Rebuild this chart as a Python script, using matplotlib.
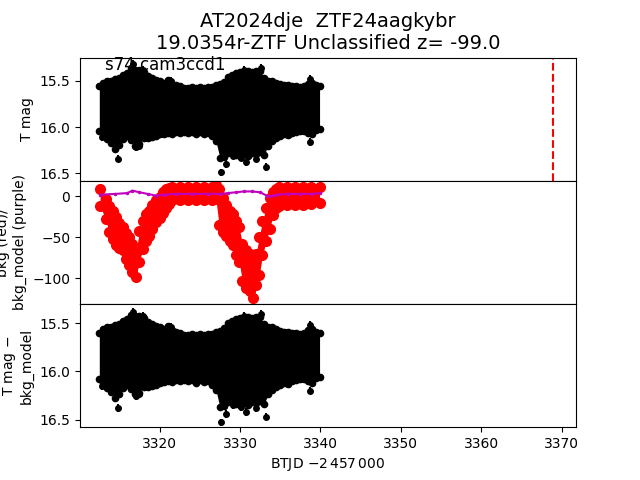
import matplotlib
matplotlib.use("Agg")
import matplotlib.pyplot as plt

# light curve envelope (T mag)
t_lc = [3312.5, 3313.0, 3313.5, 3314.0, 3314.5, 3315.0, 3315.5, 3316.0, 3316.5, 3317.0,
        3317.5, 3318.0, 3318.5, 3319.0, 3319.5, 3320.0, 3320.5, 3321.0, 3321.5, 3322.0,
        3322.5, 3323.0, 3323.5, 3324.0, 3324.5, 3325.0, 3325.5, 3326.0, 3326.5, 3327.0,
        3327.5, 3328.0, 3328.5, 3329.0, 3329.5, 3330.0, 3330.5, 3331.0, 3331.5, 3332.0,
        3332.5, 3333.0, 3333.5, 3334.0, 3334.5, 3335.0, 3335.5, 3336.0, 3336.5, 3337.0,
        3337.5, 3338.0, 3338.5, 3339.0, 3339.5, 3339.9]
mag_bright = [15.56, 15.52, 15.50, 15.50, 15.48, 15.47, 15.44, 15.42, 15.36, 15.38,
              15.38, 15.41, 15.45, 15.47, 15.49, 15.50, 15.52, 15.49, 15.53, 15.55,
              15.56, 15.58, 15.58, 15.57, 15.58, 15.57, 15.58, 15.57, 15.57, 15.55,
              15.54, 15.51, 15.46, 15.44, 15.42, 15.41, 15.41, 15.40, 15.41, 15.40,
              15.40, 15.47, 15.50, 15.50, 15.52, 15.54, 15.55, 15.55, 15.56, 15.56,
              15.57, 15.56, 15.53, 15.52, 15.55, 15.56]
mag_faint = [16.04, 16.08, 16.13, 16.17, 16.24, 16.19, 16.13, 16.10, 16.14, 16.20,
             16.18, 16.12, 16.12, 16.11, 16.10, 16.08, 16.07, 16.06, 16.07, 16.05,
             16.06, 16.05, 16.06, 16.05, 16.08, 16.05, 16.07, 16.06, 16.10, 16.15,
             16.33, 16.32, 16.28, 16.26, 16.30, 16.31, 16.29, 16.31, 16.28, 16.29,
             16.27, 16.30, 16.20, 16.15, 16.12, 16.10, 16.08, 16.09, 16.06, 16.05,
             16.04, 16.04, 16.06, 16.08, 16.03, 16.02]
# isolated points sticking out of the band
t_out = [3312.8, 3314.8, 3317.06, 3317.47, 3327.64, 3328.27, 3329.1, 3330.1, 3330.76,
         3332.0, 3333.25, 3335.95, 3338.77, 3316.64, 3317.89, 3332.62, 3338.77, 3330.55, 3321.4]
mag_out = [16.11, 16.34, 16.22, 16.20, 16.49, 16.40, 16.31, 16.33, 16.38,
           16.34, 16.43, 16.09, 16.16, 15.32, 15.38, 15.36, 15.48, 15.38, 15.50]

# background corrected light curve (T mag - bkg_model)
corr_bright = [15.60, 15.56, 15.54, 15.54, 15.52, 15.51, 15.48, 15.46, 15.41, 15.42,
               15.42, 15.45, 15.49, 15.51, 15.53, 15.54, 15.56, 15.53, 15.57, 15.59,
               15.60, 15.62, 15.62, 15.61, 15.62, 15.61, 15.62, 15.61, 15.61, 15.59,
               15.58, 15.55, 15.50, 15.48, 15.46, 15.45, 15.45, 15.44, 15.45, 15.44,
               15.44, 15.51, 15.54, 15.54, 15.56, 15.58, 15.59, 15.59, 15.60, 15.60,
               15.61, 15.60, 15.57, 15.56, 15.59, 15.60]
corr_faint = [16.08, 16.12, 16.17, 16.21, 16.28, 16.23, 16.17, 16.14, 16.18, 16.24,
              16.22, 16.16, 16.16, 16.15, 16.14, 16.12, 16.11, 16.10, 16.11, 16.09,
              16.10, 16.09, 16.10, 16.09, 16.12, 16.09, 16.11, 16.10, 16.14, 16.19,
              16.37, 16.36, 16.32, 16.30, 16.34, 16.35, 16.33, 16.35, 16.32, 16.33,
              16.31, 16.34, 16.24, 16.19, 16.16, 16.14, 16.12, 16.13, 16.10, 16.09,
              16.08, 16.08, 16.10, 16.12, 16.07, 16.06]
corr_out = [16.15, 16.38, 16.26, 16.24, 16.53, 16.44, 16.35, 16.37, 16.42,
            16.38, 16.47, 16.13, 16.20, 15.38, 15.42, 15.40, 15.52, 15.42, 15.54]

# background flux (red) and background model (purple)
t_bkg = [3312.6, 3313.3, 3313.7, 3314.15, 3314.6, 3315.0, 3315.4, 3315.8, 3316.2, 3316.6,
         3317.06, 3317.5, 3317.9, 3318.3, 3318.7, 3319.1, 3319.55, 3320.0, 3320.4, 3320.8,
         3321.2, 3321.6, 3322.5, 3323.5, 3324.5, 3325.5, 3326.5, 3327.0, 3327.4, 3327.85,
         3328.3, 3328.7, 3329.1, 3329.5, 3329.9, 3330.3, 3330.8, 3331.2, 3331.6, 3332.0,
         3332.4, 3332.8, 3333.25, 3333.7, 3334.1, 3334.5, 3334.9, 3335.8, 3336.8, 3337.8,
         3338.8, 3339.9]
bkg_hi = [9, -3, -12, -18, -25, -32, -38, -45, -50, -58,
          -68, -42, -30, -22, -18, -10, -5, -1, 5, 9,
          10, 12, 12, 11, 12, 12, 12, 14, 9, -2,
          -10, -18, -22, -30, -38, -58, -66, -70, -78, -70,
          -50, -30, -14, -2, 5, 9, 12, 12, 12, 11,
          12, 12]
bkg_lo = [-12, -28, -44, -52, -60, -63, -65, -76, -84, -92,
          -98, -80, -64, -55, -48, -40, -31, -27, -20, -14,
          -9, -5, -4, -5, -4, -4, -4, -3, -35, -44,
          -48, -55, -60, -72, -80, -104, -112, -116, -124, -108,
          -96, -72, -55, -40, -23, -14, -12, -11, -10, -10,
          -9, -8]
t_model = [3312.6, 3314.5, 3316.0, 3316.6, 3317.5, 3318.5, 3319.5, 3320.5, 3322.0, 3324.0,
           3326.0, 3327.5, 3328.5, 3329.5, 3330.5, 3331.5, 3332.5, 3333.3, 3333.8, 3334.5,
           3336.0, 3337.5, 3339.0, 3339.9]
bkg_model = [2, 3, 4, 7, 5, 3, 1, 2, 3, 3,
             3, 3, 4, 5, 6, 6, 5, 1, 0, 2,
             3, 3, 3, 4]

t_peak = 3368.9
title = "AT2024dje  ZTF24aagkybr\n19.0354r-ZTF Unclassified z= -99.0"

fig, axes = plt.subplots(3, 1, sharex=True, figsize=(6.4, 4.8), dpi=100)
fig.subplots_adjust(hspace=0)
ax1, ax2, ax3 = axes

# top: raw light curve
ax1.fill_between(t_lc, mag_bright, mag_faint, color="k", lw=0)
ax1.plot(t_lc, mag_bright, "ko", ms=4.5)
ax1.plot(t_lc, mag_faint, "ko", ms=4.5)
ax1.errorbar(t_out, mag_out, yerr=0.04, fmt="ko", ms=4)
ax1.axvline(t_peak, color="r", ls="--", lw=1.5)
ax1.set_ylim(16.58, 15.25)
ax1.set_ylabel("T mag")
ax1.text(0.05, 0.9, "s74 cam3ccd1", transform=ax1.transAxes, fontsize=12)
ax1.set_title(title, fontsize=14)

# middle: background
ax2.fill_between(t_bkg, bkg_hi, bkg_lo, color="r", lw=0)
ax2.plot(t_bkg, bkg_hi, "ro", ms=7)
ax2.plot(t_bkg, bkg_lo, "ro", ms=7)
ax2.plot(t_model, bkg_model, "m.-", ms=3, lw=1.5)
ax2.set_ylim(-131.5, 19)
ax2.set_ylabel("bkg (red)/\nbkg_model (purple)")

# bottom: background-subtracted light curve
ax3.fill_between(t_lc, corr_bright, corr_faint, color="k", lw=0)
ax3.plot(t_lc, corr_bright, "ko", ms=4.5)
ax3.plot(t_lc, corr_faint, "ko", ms=4.5)
ax3.errorbar(t_out, corr_out, yerr=0.04, fmt="ko", ms=4)
ax3.set_ylim(16.58, 15.30)
ax3.set_ylabel("T mag $-$\nbkg_model")
ax3.set_xlabel(r"BTJD $-2\,457\,000$")

for ax in (ax1, ax2):
    ax.tick_params(axis="x", bottom=False, labelbottom=False)
ax3.set_xlim(3310.1, 3371.8)

fig.savefig("out.png")
